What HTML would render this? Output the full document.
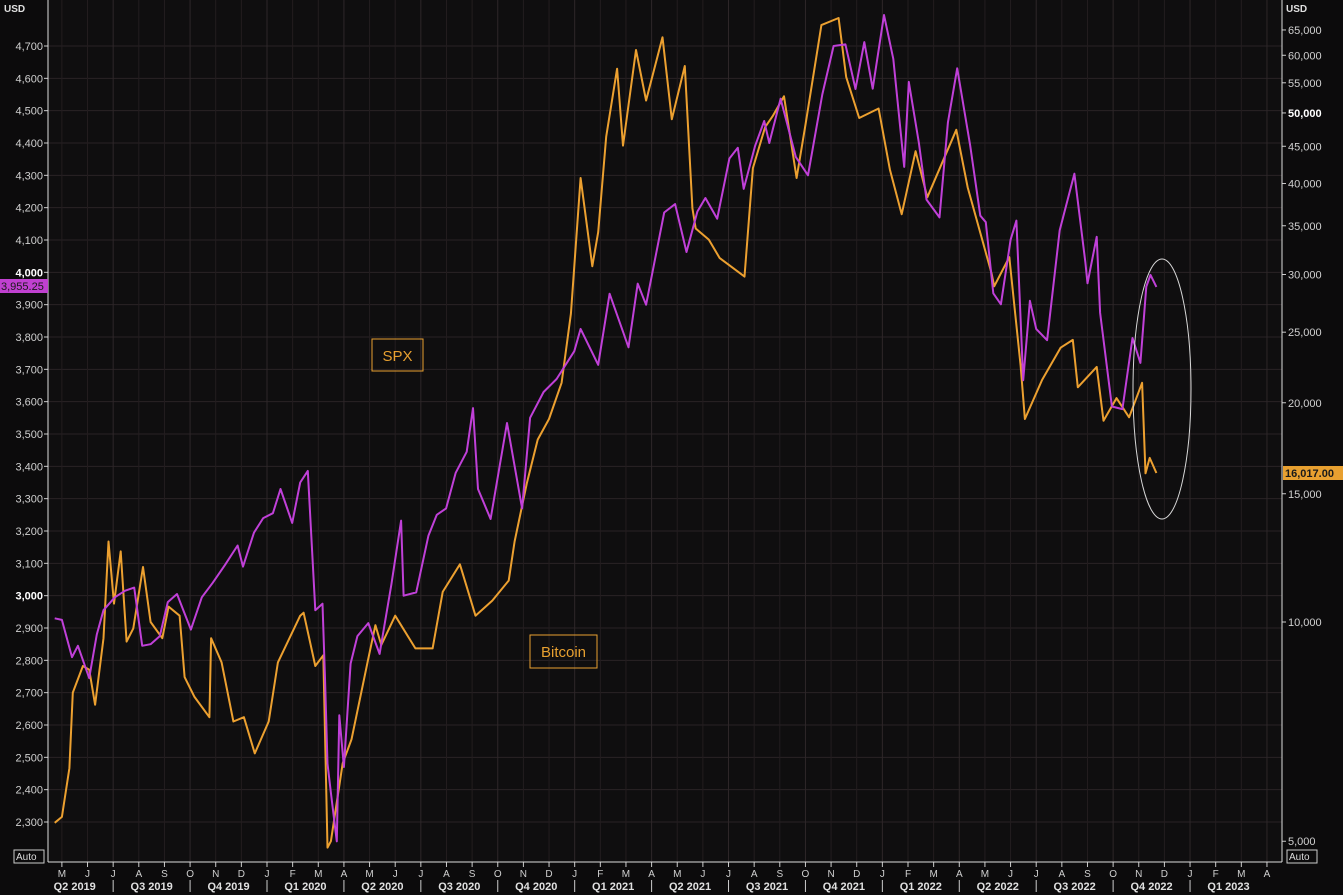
<!DOCTYPE html>
<html><head><meta charset="utf-8"><style>
html,body{margin:0;padding:0;background:#0c0b0c;}
svg{display:block;font-family:"Liberation Sans",sans-serif;}
</style></head><body>
<svg id="chart" width="1343" height="895" xmlns="http://www.w3.org/2000/svg">
<rect x="0" y="0" width="1343" height="895" fill="#0c0b0c"/>
<rect x="48" y="0" width="1234" height="862" fill="#0f0e0f"/>
<g id="grid"></g>
<g id="axes"></g>
<g id="series"></g>
<rect x="372" y="339" width="51" height="32" fill="none" stroke="#e8a030" stroke-width="1"/>
<text x="397.5" y="361" fill="#e8a030" font-size="15" text-anchor="middle">SPX</text>
<rect x="530" y="635" width="67" height="33" fill="none" stroke="#e8a030" stroke-width="1"/>
<text x="563.5" y="657" fill="#e8a030" font-size="15" text-anchor="middle">Bitcoin</text>
<ellipse cx="1162" cy="389" rx="29" ry="130" fill="none" stroke="#d8d8d8" stroke-width="1"/>
<text x="4" y="12" fill="#e0e0e0" font-size="10" font-weight="bold">USD</text>
<text x="1286" y="12" fill="#e0e0e0" font-size="10" font-weight="bold">USD</text>
<rect x="0" y="279" width="48" height="14" fill="#c040d0"/>
<text x="1" y="290" fill="#1a1a1a" font-size="11">3,955.25</text>
<rect x="1283" y="466" width="60" height="14" fill="#e8a030"/>
<text x="1285" y="477" fill="#1a1a1a" font-size="11" font-weight="bold">16,017.00</text>
<rect x="14" y="850" width="30" height="13" fill="none" stroke="#ccc"/>
<text x="16" y="860" fill="#ddd" font-size="10">Auto</text>
<rect x="1287" y="850" width="30" height="13" fill="none" stroke="#ccc"/>
<text x="1289" y="860" fill="#ddd" font-size="10">Auto</text>
</svg>
<script>
const spxDates=["2019-04-23","2019-05-01","2019-05-13","2019-05-20","2019-06-03","2019-06-12","2019-06-20","2019-07-03","2019-07-15","2019-07-26","2019-08-05","2019-08-15","2019-08-26","2019-09-05","2019-09-16","2019-10-02","2019-10-15","2019-10-28","2019-11-12","2019-11-27","2019-12-03","2019-12-16","2019-12-27","2020-01-08","2020-01-17","2020-01-31","2020-02-10","2020-02-19","2020-02-28","2020-03-06","2020-03-09","2020-03-12","2020-03-16","2020-03-23","2020-03-26","2020-04-01","2020-04-09","2020-04-17","2020-04-30","2020-05-13","2020-05-27","2020-06-08","2020-06-11","2020-06-26","2020-07-10","2020-07-20","2020-07-31","2020-08-12","2020-08-25","2020-09-02","2020-09-08","2020-09-23","2020-10-12","2020-10-30","2020-11-09","2020-11-25","2020-12-10","2020-12-31","2021-01-08","2021-01-29","2021-02-12","2021-03-04","2021-03-15","2021-03-25","2021-04-16","2021-04-29","2021-05-12","2021-05-25","2021-06-04","2021-06-18","2021-07-02","2021-07-12","2021-07-19","2021-08-02","2021-08-13","2021-08-19","2021-09-02","2021-09-20","2021-10-04","2021-10-21","2021-11-04","2021-11-18","2021-11-30","2021-12-10","2021-12-20","2022-01-03","2022-01-14","2022-01-27","2022-02-02","2022-02-14","2022-02-23","2022-03-08","2022-03-18","2022-03-29","2022-04-14","2022-04-26","2022-05-02","2022-05-11","2022-05-20","2022-06-01","2022-06-08","2022-06-16","2022-06-24","2022-07-01","2022-07-14","2022-07-29","2022-08-16","2022-08-29","2022-09-01","2022-09-12","2022-09-16","2022-09-30","2022-10-12","2022-10-24","2022-11-03","2022-11-10","2022-11-15","2022-11-22"];
const spxValues=[2930,2925,2810,2845,2745,2880,2955,2995,3015,3025,2845,2850,2875,2980,3005,2895,2995,3040,3095,3155,3090,3195,3240,3255,3330,3225,3350,3386,2955,2975,2745,2480,2390,2240,2630,2470,2790,2875,2915,2820,3035,3232,3000,3010,3185,3250,3270,3380,3445,3580,3330,3237,3534,3270,3550,3630,3670,3756,3825,3714,3934,3768,3965,3900,4185,4211,4063,4188,4230,4166,4352,4385,4258,4390,4468,4400,4537,4357,4300,4550,4700,4705,4567,4712,4568,4796,4660,4326,4589,4400,4225,4170,4463,4631,4392,4175,4155,3935,3901,4101,4160,3666,3912,3825,3790,4130,4305,4030,3966,4110,3875,3585,3577,3797,3720,3956,3992,3955];
const btcDates=["2019-04-23","2019-05-01","2019-05-10","2019-05-14","2019-05-26","2019-06-03","2019-06-10","2019-06-20","2019-06-26","2019-07-02","2019-07-10","2019-07-17","2019-07-25","2019-08-06","2019-08-15","2019-08-29","2019-09-06","2019-09-19","2019-09-25","2019-10-06","2019-10-24","2019-10-26","2019-11-08","2019-11-22","2019-12-04","2019-12-17","2020-01-03","2020-01-14","2020-02-10","2020-02-14","2020-02-28","2020-03-07","2020-03-12","2020-03-16","2020-03-30","2020-04-10","2020-04-29","2020-05-08","2020-05-15","2020-06-01","2020-06-25","2020-07-15","2020-07-27","2020-08-17","2020-09-05","2020-09-25","2020-10-14","2020-10-21","2020-11-05","2020-11-18","2020-12-01","2020-12-16","2020-12-27","2021-01-08","2021-01-22","2021-01-29","2021-02-08","2021-02-21","2021-02-28","2021-03-13","2021-03-25","2021-04-14","2021-04-25","2021-05-10","2021-05-19","2021-05-23","2021-06-08","2021-06-21","2021-07-20","2021-07-30","2021-08-14","2021-08-23","2021-09-06","2021-09-21","2021-10-01","2021-10-20","2021-11-10","2021-11-19","2021-12-04","2021-12-27","2022-01-10","2022-01-24","2022-02-10","2022-02-24","2022-03-28","2022-04-11","2022-05-09","2022-05-12","2022-05-30","2022-06-13","2022-06-18","2022-07-08","2022-07-30","2022-08-14","2022-08-20","2022-09-12","2022-09-20","2022-10-05","2022-10-20","2022-11-05","2022-11-09","2022-11-14","2022-11-22"];
const btcValues=[5300,5400,6300,8000,8700,8600,7700,9500,12900,10600,12500,9400,9800,11900,10000,9500,10500,10200,8400,7900,7400,9500,8800,7300,7400,6600,7300,8800,10200,10300,8700,9000,4900,5000,6400,6900,8800,9900,9300,10200,9200,9200,11000,12000,10200,10700,11400,12900,15500,17800,19000,21300,26500,40700,30800,34300,46400,57500,45100,61000,52000,63500,49000,58000,37000,34700,33500,31600,29800,42000,47800,49500,52700,40700,48100,66000,67500,56000,49200,50700,41800,36300,44300,38300,47400,39500,30100,28900,31700,22500,19000,21500,23800,24400,21000,22400,18900,20300,19100,21300,16000,16800,16017];
const leftTicks=[2300,2400,2500,2600,2700,2800,2900,3000,3100,3200,3300,3400,3500,3600,3700,3800,3900,4000,4100,4200,4300,4400,4500,4600,4700];
const rightTicks=[5000,10000,15000,20000,25000,30000,35000,40000,45000,50000,55000,60000,65000];
const monthLabels=["J","F","M","A","M","J","J","A","S","O","N","D"];

const NS="http://www.w3.org/2000/svg";
function mk(tag,attrs,parent){const e=document.createElementNS(NS,tag);for(const k in attrs)e.setAttribute(k,attrs[k]);parent.appendChild(e);return e;}
function monthIdx(s){const [y,m,d]=s.split("-").map(Number);return (y-2020)*12+(m-1)+(d-1)/30.5;}
function xScale(m){return 267+25.64*m;}
function yLeft(v){return 46+(4700-v)*0.32333;}
function yRight(v){return 622-Math.log10(v/10000)*728.3;}
const grid=document.getElementById("grid"),axes=document.getElementById("axes"),series=document.getElementById("series");

leftTicks.forEach(v=>{const y=yLeft(v);
 const g=mk("line",{x1:48,x2:1282,y1:y,y2:y,stroke:"#2a2326","stroke-width":1},grid);
 
 
 const t=mk("line",{x1:44,x2:48,y1:y,y2:y,stroke:"#ccc"},axes);
 
 
 const bold=(v%1000===0);
 const l=mk("text",{x:43,y:y+4,fill:bold?"#ffffff":"#d0d0d0","font-size":11,"text-anchor":"end","font-weight":bold?"bold":"normal"},axes);
 l.textContent=v.toLocaleString("en-US");
 
 
});
rightTicks.forEach(v=>{const y=yRight(v);
 const t=mk("line",{x1:1282,x2:1286,y1:y,y2:y,stroke:"#ccc"},axes);
 
 
 const bold=(v===50000);
 const l=mk("text",{x:1288,y:y+4,fill:bold?"#ffffff":"#d0d0d0","font-size":11,"font-weight":bold?"bold":"normal"},axes);
 l.textContent=v.toLocaleString("en-US");
 
 
});
for(let m=-8;m<=39;m++){const x=xScale(m);
 const g=mk("line",{x1:x,x2:x,y1:0,y2:862,stroke:m%3===0?"#2e2729":"#231d1f","stroke-width":1},grid);
 
 
 const t=mk("line",{x1:x,x2:x,y1:862,y2:867,stroke:"#ccc"},axes);
 
 
 const l=mk("text",{x:x,y:877,fill:"#d0d0d0","font-size":10,"text-anchor":"middle"},axes);
 l.textContent=monthLabels[((m%12)+12)%12];
 
 
}
for(let q=-3;q<=12;q++){const m0=q*3;const xc=xScale(m0+1.5);const year=2020+Math.floor(m0/12);const qn=((q%4)+4)%4+1;
 const l=mk("text",{x:xc,y:890,fill:"#e0e0e0","font-size":11,"font-weight":"bold","text-anchor":"middle"},axes);
 l.textContent="Q"+qn+" "+year;
 
 
 if(q>-3){const s=mk("line",{x1:xScale(m0),x2:xScale(m0),y1:880,y2:892,stroke:"#ccc"},axes);
 
 }
}
const ax1=mk("line",{x1:48,x2:48,y1:0,y2:862,stroke:"#ddd"},axes);


const ax2=mk("line",{x1:1282,x2:1282,y1:0,y2:862,stroke:"#ddd"},axes);


const ax3=mk("line",{x1:48,x2:1282,y1:862,y2:862,stroke:"#ddd"},axes);



const btcPath=mk("polyline",{points:btcDates.map((d,i)=>xScale(monthIdx(d)).toFixed(1)+","+yRight(btcValues[i]).toFixed(1)).join(" "),fill:"none",stroke:"#eca030","stroke-width":2,"stroke-linejoin":"round"},series);


const spxPath=mk("polyline",{points:spxDates.map((d,i)=>xScale(monthIdx(d)).toFixed(1)+","+yLeft(spxValues[i]).toFixed(1)).join(" "),fill:"none",stroke:"#c040d8","stroke-width":2,"stroke-linejoin":"round"},series);


</script>
</body></html>
